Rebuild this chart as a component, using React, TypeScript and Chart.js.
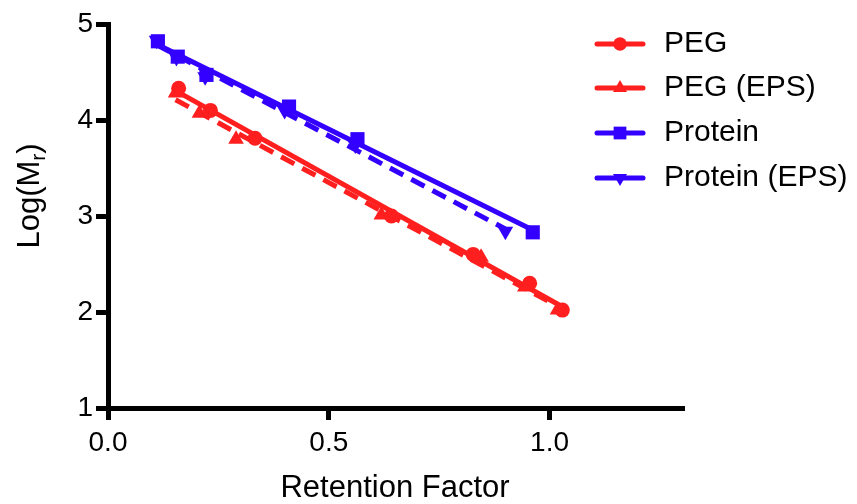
import React, { useEffect, useRef } from 'react';
import { Chart, registerables } from 'chart.js';

Chart.register(...registerables);

// ---- data ----
const seriesNames = ['PEG', 'PEG (EPS)', 'Protein', 'Protein (EPS)'];
const pegX = [0.16, 0.232, 0.333, 0.642, 0.827, 0.955, 1.029];
const pegY = [4.33, 4.10, 3.81, 3.0, 2.60, 2.30, 2.02];
const pegEpsX = [0.153, 0.207, 0.29, 0.619, 0.845, 0.944, 1.018];
const pegEpsY = [4.28, 4.07, 3.80, 3.01, 2.57, 2.26, 2.02];
const proteinX = [0.113, 0.158, 0.223, 0.41, 0.565, 0.962];
const proteinY = [4.82, 4.66, 4.47, 4.14, 3.80, 2.83];
const proteinEpsX = [0.11, 0.155, 0.22, 0.40, 0.56, 0.90];
const proteinEpsY = [4.83, 4.65, 4.45, 4.10, 3.74, 2.84];
const xTicks = [0, 0.5, 1.0];
const yTicks = [1, 2, 3, 4, 5];

const RED = '#FF1F1F';
const BLUE = '#3300FF';

const seriesX = [pegX, pegEpsX, proteinX, proteinEpsX];
const seriesY = [pegY, pegEpsY, proteinY, proteinEpsY];
const seriesColor = [RED, RED, BLUE, BLUE];
const seriesDash = [[], [15, 9], [], [15, 9]];
const seriesPoint = ['circle', 'triangle', 'rect', 'triangle'];
const seriesRot = [0, 0, 0, 180];
const seriesRadius = [7.5, 9, 10, 9];

function fitLine(xs: number[], ys: number[]) {
  const n = xs.length;
  const mx = xs.reduce((a, b) => a + b, 0) / n;
  const my = ys.reduce((a, b) => a + b, 0) / n;
  let sxy = 0, sxx = 0;
  for (let i = 0; i < n; i++) {
    sxy += (xs[i] - mx) * (ys[i] - my);
    sxx += (xs[i] - mx) * (xs[i] - mx);
  }
  const b = sxy / sxx;
  const a = my - b * mx;
  const x0 = Math.min(...xs);
  const x1 = Math.max(...xs);
  return [{ x: x0, y: a + b * x0 }, { x: x1, y: a + b * x1 }];
}

function drawMarker(ctx: CanvasRenderingContext2D, kind: string, rot: number, x: number, y: number, r: number) {
  ctx.beginPath();
  if (kind === 'circle') {
    ctx.arc(x, y, r, 0, Math.PI * 2);
  } else if (kind === 'rect') {
    const s = Math.SQRT1_2 * r;
    ctx.rect(x - s, y - s, 2 * s, 2 * s);
  } else {
    let rad = (rot * Math.PI) / 180;
    for (let i = 0; i < 3; i++) {
      const px = x + Math.sin(rad) * r;
      const py = y - Math.cos(rad) * r;
      if (i === 0) ctx.moveTo(px, py); else ctx.lineTo(px, py);
      rad += (2 * Math.PI) / 3;
    }
    ctx.closePath();
  }
  ctx.fill();
}

const customText = {
  id: 'customText',
  afterDraw(chart: any) {
    const ctx: CanvasRenderingContext2D = chart.ctx;
    ctx.save();
    // legend
    const rows = [44, 88, 133, 178];
    for (let i = 0; i < seriesNames.length; i++) {
      const y = rows[i];
      ctx.strokeStyle = seriesColor[i];
      ctx.fillStyle = seriesColor[i];
      ctx.lineWidth = 5;
      ctx.lineCap = 'round';
      ctx.setLineDash([]);
      ctx.beginPath();
      ctx.moveTo(597, y);
      ctx.lineTo(643, y);
      ctx.stroke();
      drawMarker(ctx, seriesPoint[i], seriesRot[i], 620, y, seriesRadius[i] * 0.9);
      ctx.fillStyle = '#000';
      ctx.font = '30px "Liberation Sans", Arial, sans-serif';
      ctx.textAlign = 'left';
      ctx.textBaseline = 'middle';
      ctx.fillText(seriesNames[i], 664, y);
    }
    // y axis title with subscript
    ctx.translate(28, 196);
    ctx.rotate(-Math.PI / 2);
    const big = '31px "Liberation Sans", Arial, sans-serif';
    const small = '21px "Liberation Sans", Arial, sans-serif';
    ctx.font = big;
    const w1 = ctx.measureText('Log(M').width;
    const w3 = ctx.measureText(')').width;
    ctx.font = small;
    const w2 = ctx.measureText('r').width;
    const total = w1 + w2 + w3;
    let x = -total / 2;
    ctx.fillStyle = '#000';
    ctx.textAlign = 'left';
    ctx.textBaseline = 'alphabetic';
    ctx.font = big;
    ctx.fillText('Log(M', x, 11);
    x += w1;
    ctx.font = small;
    ctx.fillText('r', x, 17);
    x += w2;
    ctx.font = big;
    ctx.fillText(')', x, 11);
    ctx.restore();
  },
};

export default function App() {
  const ref = useRef<HTMLCanvasElement | null>(null);
  useEffect(() => {
    document.body.style.margin = '0';
    const canvas = ref.current!;
    const datasets: any[] = [];
    for (let i = 0; i < seriesNames.length; i++) {
      datasets.push({
        label: seriesNames[i] + ' fit',
        data: fitLine(seriesX[i], seriesY[i]),
        showLine: true,
        borderColor: seriesColor[i],
        borderWidth: 5,
        borderDash: seriesDash[i],
        pointRadius: 0,
        order: 2,
      });
    }
    for (let i = 0; i < seriesNames.length; i++) {
      datasets.push({
        label: seriesNames[i],
        data: seriesX[i].map((x, j) => ({ x, y: seriesY[i][j] })),
        showLine: false,
        backgroundColor: seriesColor[i],
        borderColor: seriesColor[i],
        borderWidth: 0,
        pointStyle: seriesPoint[i],
        rotation: seriesRot[i],
        pointRadius: seriesRadius[i],
        order: 1,
      });
    }
    const font = { family: '"Liberation Sans", Arial, sans-serif', size: 28 };
    const chart = new Chart(canvas, {
      type: 'scatter',
      data: { datasets },
      plugins: [customText],
      options: {
        animation: false,
        responsive: false,
        devicePixelRatio: 1,
        layout: { padding: { left: 0, top: 24, right: 175, bottom: 0 } },
        plugins: { legend: { display: false }, tooltip: { enabled: false } },
        scales: {
          x: {
            type: 'linear',
            min: 0,
            max: 1.3,
            afterFit: (s: any) => { s.height = 96; },
            afterBuildTicks: (s: any) => { s.ticks = xTicks.map((v) => ({ value: v })); },
            border: { display: true, color: '#000', width: 5 },
            grid: { drawOnChartArea: false, drawTicks: true, tickLength: 12, lineWidth: 5, color: '#000' },
            ticks: { font, color: '#000', padding: 6, maxRotation: 0, callback: (v: any) => Number(v).toFixed(1) },
            title: { display: true, text: 'Retention Factor', color: '#000', font: { family: font.family, size: 31, lineHeight: 1 }, padding: { top: 0, bottom: 0 } },
          },
          y: {
            type: 'linear',
            min: 1,
            max: 5,
            afterFit: (s: any) => { s.width = 108; },
            afterBuildTicks: (s: any) => { s.ticks = yTicks.map((v) => ({ value: v })); },
            border: { display: true, color: '#000', width: 5 },
            grid: { drawOnChartArea: false, drawTicks: true, tickLength: 12, lineWidth: 5, color: '#000' },
            ticks: { font, color: '#000', padding: 3, callback: (v: any) => String(v) },
          },
        },
      },
    } as any);
    return () => chart.destroy();
  }, []);
  return <canvas ref={ref} width={857} height={504} style={{ display: 'block', width: 857, height: 504 }} />;
}
